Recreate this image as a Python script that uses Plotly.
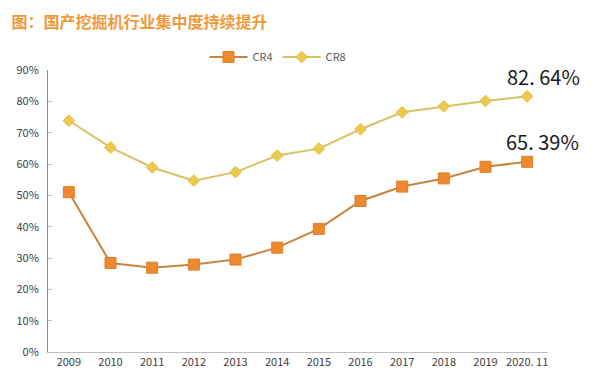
import plotly.graph_objects as go

categories = ["2009", "2010", "2011", "2012", "2013", "2014", "2015", "2016", "2017", "2018", "2019", "2020. 11"]
cr4 = [0.510, 0.284, 0.269, 0.279, 0.295, 0.333, 0.393, 0.482, 0.528, 0.554, 0.591, 0.607]
cr8 = [0.738, 0.653, 0.589, 0.547, 0.574, 0.627, 0.649, 0.711, 0.765, 0.784, 0.801, 0.816]
y_ticks = [0, 0.1, 0.2, 0.3, 0.4, 0.5, 0.6, 0.7, 0.8, 0.9]
y_tick_labels = ["0%", "10%", "20%", "30%", "40%", "50%", "60%", "70%", "80%", "90%"]
title_text = "图：国产挖掘机行业集中度持续提升"
cr8_label = "82. 64%"
cr4_label = "65. 39%"

FONT = "Noto Sans CJK SC"

fig = go.Figure()
fig.add_trace(go.Scatter(
    x=categories, y=cr4, name="CR4", mode="lines+markers",
    line=dict(color="#C98340", width=2),
    marker=dict(symbol="square", size=11, color="#EE8A2E", line=dict(color="#E07D28", width=1)),
))
fig.add_trace(go.Scatter(
    x=categories, y=cr8, name="CR8", mode="lines+markers",
    line=dict(color="#D6C463", width=2),
    marker=dict(symbol="diamond", size=9, color="#EDC94E", line=dict(color="#E2BD40", width=1)),
))

fig.add_annotation(x=categories[-1], y=cr8[-1], text=cr8_label, showarrow=False,
                   xref="x", yref="y", xanchor="center", yanchor="bottom", yshift=3, xshift=16,
                   font=dict(family=FONT, size=20, color="#1a1a1a"))
fig.add_annotation(x=categories[-1], y=cr4[-1], text=cr4_label, showarrow=False,
                   xref="x", yref="y", xanchor="center", yanchor="bottom", yshift=4, xshift=15,
                   font=dict(family=FONT, size=20, color="#1a1a1a"))

fig.update_layout(
    width=600, height=389,
    margin=dict(l=40, r=60, t=62, b=45, autoexpand=False),
    paper_bgcolor="white", plot_bgcolor="white",
    font=dict(family=FONT, color="#595959", size=11),
    title=dict(text=title_text, x=0.006, xanchor="left", y=0.962, yanchor="middle",
               font=dict(family=FONT, size=16, color="#EE9A3A", weight="bold")),
    legend=dict(orientation="h", x=0.313, xanchor="left", y=1.046, yanchor="middle",
                font=dict(size=11, color="#595959"), bgcolor="rgba(0,0,0,0)",
                itemwidth=38),
    showlegend=True,
)
fig.update_xaxes(
    type="category", range=[-0.5, 11.5], showgrid=False, showline=True,
    linecolor="#BFBFBF", linewidth=1, ticks="", tickfont=dict(size=11, color="#404040"),
    zeroline=False, automargin=False,
)
fig.update_yaxes(
    range=[0, 0.9], tickvals=y_ticks, ticktext=y_tick_labels, showgrid=False,
    showline=True, linecolor="#8C8C8C", linewidth=1, ticks="inside", ticklen=4,
    tickcolor="#BFBFBF", tickfont=dict(size=11, color="#404040"), zeroline=False,
    ticklabelstandoff=6, automargin=False,
)

fig.write_html("out.html")
